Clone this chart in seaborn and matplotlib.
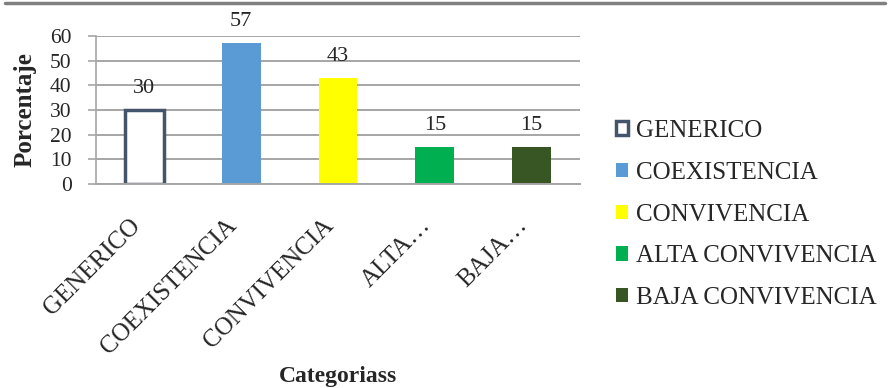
import matplotlib
matplotlib.use("Agg")
import matplotlib.pyplot as plt
import seaborn as sns
import pandas as pd
from matplotlib.patches import Patch
from matplotlib.lines import Line2D

categories = ["GENERICO", "COEXISTENCIA", "CONVIVENCIA", "ALTA CONVIVENCIA", "BAJA CONVIVENCIA"]
tick_labels = ["GENERICO", "COEXISTENCIA", "CONVIVENCIA", "ALTA…", "BAJA…"]
values = [30, 57, 43, 15, 15]
colors = ["#FFFFFF", "#5B9BD5", "#FFFF00", "#00B050", "#375623"]
edge_generico = "#44546A"

sns.set_style("white")
plt.rcParams["font.family"] = ["Liberation Serif", "DejaVu Serif"]

df = pd.DataFrame({"cat": categories, "val": values})

fig = plt.figure(figsize=(8.9, 3.88), dpi=100)
ax = fig.add_axes([0.1079, 0.5258, 0.5438, 0.3814])

sns.barplot(data=df, x="cat", y="val", hue="cat", palette=colors, dodge=False,
            width=0.4, legend=False, ax=ax, saturation=1)

for i, p in enumerate(ax.patches):
    if i == 0:
        p.set_facecolor("white")
        p.set_edgecolor(edge_generico)
        p.set_linewidth(2.5)
    else:
        p.set_edgecolor("none")

ax.set_ylim(0, 60)
ax.set_yticks(range(0, 61, 10))
ax.set_xlim(-0.5, 4.5)
ax.yaxis.grid(True, color="#A6A6A6", linewidth=1.4)
ax.set_axisbelow(True)
for s in ["top", "right"]:
    ax.spines[s].set_visible(False)
ax.spines["left"].set_color("#A6A6A6")
ax.spines["bottom"].set_color("#A6A6A6")
ax.spines["left"].set_linewidth(1.2)
ax.spines["bottom"].set_linewidth(1.4)
ax.tick_params(axis="y", length=5.5, color="#A6A6A6", width=1.2, labelsize=15.5, pad=12, left=True)
ax.tick_params(axis="x", length=0, labelsize=18, pad=33)

ax.set_xticks(range(len(categories)))
ax.set_xticklabels(tick_labels, rotation=45, ha="right", va="bottom", rotation_mode="anchor")

for i, v in enumerate(values):
    ax.text(i, v + 7, str(v), ha="center", va="baseline", fontsize=16)

ax.set_ylabel("Porcentaje", fontsize=18, fontweight="bold")
ax.yaxis.set_label_coords(-0.122, 0.5)
ax.set_xlabel("Categoriass", fontsize=17, fontweight="bold")
ax.xaxis.set_label_coords(0.5, -1.23)

handles = []
for i, c in enumerate(categories):
    if i == 0:
        handles.append(Patch(facecolor="white", edgecolor=edge_generico, linewidth=2.5, label=c))
    else:
        handles.append(Patch(facecolor=colors[i], edgecolor="none", label=c))
fig.legend(handles=handles, loc="center left", bbox_to_anchor=(0.692, 0.447), frameon=False,
           fontsize=18, handlelength=0.5, handleheight=0.5, handletextpad=0.3, labelspacing=0.79,
           borderpad=0, borderaxespad=0)

fig.add_artist(Line2D([0.006, 0.994], [0.991, 0.991], color="#808080", linewidth=2.5, transform=fig.transFigure))

fig.savefig("out.png", dpi=100)
